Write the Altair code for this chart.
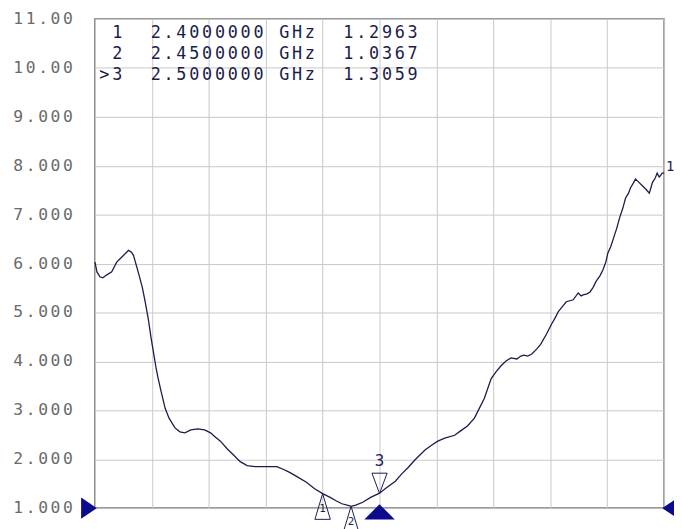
import altair as alt
import pandas as pd

# ---- trace data (VSWR vs frequency) ----
freq_ghz = [2.0000, 2.0035, 2.0087, 2.0139, 2.0208, 2.0295, 2.0382, 2.0469, 2.0538, 2.0590,
            2.0642, 2.0677, 2.0764, 2.0833, 2.0885, 2.0938, 2.0990, 2.1076, 2.1111, 2.1163,
            2.1233, 2.1302, 2.1406, 2.1493, 2.1580, 2.1684, 2.1806, 2.1927, 2.2031, 2.2118,
            2.2205, 2.2326, 2.2448, 2.2552, 2.2674, 2.2813, 2.3021, 2.3194, 2.3316, 2.3420,
            2.3542, 2.3715, 2.3854, 2.4000, 2.4132, 2.4236, 2.4340, 2.4462, 2.4500, 2.4583,
            2.4705, 2.4844, 2.5000, 2.5104, 2.5278, 2.5382, 2.5503, 2.5625, 2.5799, 2.5920,
            2.6024, 2.6146, 2.6319, 2.6424, 2.6545, 2.6667, 2.6753, 2.6840, 2.6962, 2.7049,
            2.7135, 2.7222, 2.7309, 2.7413, 2.7483, 2.7535, 2.7604, 2.7674, 2.7760, 2.7830,
            2.7934, 2.8021, 2.8090, 2.8142, 2.8212, 2.8281, 2.8403, 2.8490, 2.8542, 2.8576,
            2.8646, 2.8698, 2.8750, 2.8802, 2.8872, 2.8924, 2.8976, 2.9010, 2.9063, 2.9097,
            2.9167, 2.9219, 2.9271, 2.9323, 2.9375, 2.9410, 2.9462, 2.9497, 2.9549, 2.9618,
            2.9688, 2.9740, 2.9774, 2.9792, 2.9844, 2.9878, 2.9913, 2.9931, 2.9965, 3.0000]
vswr = [6.03, 5.83, 5.73, 5.71, 5.77, 5.83, 6.03, 6.13, 6.21, 6.27,
        6.23, 6.17, 5.81, 5.51, 5.20, 4.86, 4.45, 3.85, 3.65, 3.38,
        3.04, 2.84, 2.64, 2.56, 2.54, 2.60, 2.62, 2.60, 2.54, 2.45,
        2.37, 2.21, 2.07, 1.95, 1.87, 1.85, 1.85, 1.85, 1.79, 1.73,
        1.65, 1.53, 1.40, 1.2963, 1.22, 1.15, 1.09, 1.05, 1.0367, 1.06,
        1.12, 1.22, 1.3059, 1.40, 1.55, 1.69, 1.83, 1.99, 2.19, 2.29,
        2.37, 2.43, 2.49, 2.58, 2.68, 2.84, 3.04, 3.24, 3.65, 3.79,
        3.91, 4.01, 4.07, 4.05, 4.11, 4.13, 4.11, 4.15, 4.25, 4.35,
        4.56, 4.76, 4.90, 5.02, 5.12, 5.22, 5.26, 5.40, 5.34, 5.36,
        5.38, 5.42, 5.51, 5.63, 5.75, 5.87, 6.03, 6.21, 6.35, 6.47,
        6.72, 6.94, 7.12, 7.34, 7.44, 7.55, 7.65, 7.73, 7.67, 7.59,
        7.51, 7.44, 7.57, 7.65, 7.75, 7.85, 7.77, 7.79, 7.85, 7.85]

# ---- markers ----
marker_ids = ["1", "2", "3"]
marker_freq_ghz = [2.40, 2.45, 2.50]
marker_vswr = [1.2963, 1.0367, 1.3059]
active_marker = "3"

# ---- axes ----
y_ticks = [11, 10, 9, 8, 7, 6, 5, 4, 3, 2, 1]
x_ticks = [2.0, 2.1, 2.2, 2.3, 2.4, 2.5, 2.6, 2.7, 2.8, 2.9, 3.0]
start_ghz, stop_ghz = 2.0, 3.0
ref_level, top_level = 1.0, 11.0
trace_label = "1"

W, H = 576, 495
NAVY = "#1c1c4a"
BLUE = "#0b0b8c"
MONO = "DejaVu Sans Mono"

xs = alt.Scale(domain=[start_ghz, stop_ghz], nice=False, zero=False)
ys = alt.Scale(domain=[ref_level, top_level], nice=False, zero=False)

trace = pd.DataFrame({"f": freq_ghz, "v": vswr})

base_axes = alt.Chart(trace).mark_line(color=NAVY, strokeWidth=1.3, interpolate="linear").encode(
    x=alt.X("f:Q", scale=xs, axis=alt.Axis(values=x_ticks, grid=True, labels=False, ticks=False,
                                              domain=False, title=None, gridColor="#c8c8c8", gridWidth=1)),
    y=alt.Y("v:Q", scale=ys, axis=alt.Axis(values=y_ticks, grid=True, labels=False, ticks=False,
                                              domain=False, title=None, gridColor="#c8c8c8", gridWidth=1)),
)

# y tick labels, monospaced character cells
ylab_rows = []
for t in y_ticks:
    s = f"{t:.2f}" if t >= 10 else f"{t:.3f}"
    for i, ch in enumerate(s):
        ylab_rows.append({"v": t, "i": i, "ch": ch})
ylab = alt.Chart(pd.DataFrame(ylab_rows)).transform_calculate(
    px="-77.7 + 12.6 * datum.i"
).mark_text(font=MONO, fontSize=16.5, color="#6a6a6a", baseline="middle", align="center").encode(
    x=alt.X("px:Q", scale=None), y=alt.Y("v:Q", scale=ys), text="ch:N"
)

# marker table
tab_rows = []
for r, (mid, f, v) in enumerate(zip(marker_ids, marker_freq_ghz, marker_vswr)):
    prefix = ">" if mid == active_marker else " "
    line = f"{prefix}{mid}  {f:.7f} GHz  {v:.4f}"
    for i, ch in enumerate(line):
        if ch != " ":
            tab_rows.append({"r": r, "i": i, "ch": ch})
table = alt.Chart(pd.DataFrame(tab_rows)).transform_calculate(
    px="9.5 + 13 * datum.i", py="14.5 + 21 * datum.r"
).mark_text(font=MONO, fontSize=17, color=NAVY, baseline="middle", align="center").encode(
    x=alt.X("px:Q", scale=None), y=alt.Y("py:Q", scale=None), text="ch:N"
)

mk = pd.DataFrame({"id": marker_ids, "f": marker_freq_ghz, "v": marker_vswr})
mk_inactive = mk[mk["id"] != active_marker]
mk_active = mk[mk["id"] == active_marker]

tri_up = alt.Chart(mk_inactive).mark_point(
    shape="M0,-1L0.6,1L-0.6,1Z", size=676, filled=False, stroke=NAVY, strokeWidth=1, opacity=1, yOffset=13
).encode(x=alt.X("f:Q", scale=xs), y=alt.Y("v:Q", scale=ys))
tri_up_txt = alt.Chart(mk_inactive).mark_text(
    font=MONO, fontSize=11, color=NAVY, baseline="middle", dy=16
).encode(x=alt.X("f:Q", scale=xs), y=alt.Y("v:Q", scale=ys), text="id:N")

tri_dn = alt.Chart(mk_active).mark_point(
    shape="M0,1L0.75,-1L-0.75,-1Z", size=420, filled=False, stroke=NAVY, strokeWidth=1, opacity=1, yOffset=-10
).encode(x=alt.X("f:Q", scale=xs), y=alt.Y("v:Q", scale=ys))
tri_dn_txt = alt.Chart(mk_active).mark_text(
    font=MONO, fontSize=16, color=NAVY, baseline="middle", dy=-33
).encode(x=alt.X("f:Q", scale=xs), y=alt.Y("v:Q", scale=ys), text="id:N")

# active marker stimulus indicator at bottom
stim = alt.Chart(mk_active.assign(ref=ref_level)).mark_point(
    shape="M0,-0.5L1,0.5L-1,0.5Z", size=676, filled=True, fill=BLUE, stroke=BLUE, opacity=1, yOffset=4
).encode(x=alt.X("f:Q", scale=xs), y=alt.Y("ref:Q", scale=ys))

# reference level arrows
ref_df = pd.DataFrame({"f": [start_ghz], "v": [ref_level]})
ref_left = alt.Chart(ref_df).mark_point(
    shape="M1,0L-1,-1.35L-1,1.35Z", size=169, filled=True, fill=BLUE, stroke=BLUE, opacity=1, xOffset=-6.5
).encode(x=alt.X("f:Q", scale=xs), y=alt.Y("v:Q", scale=ys))
ref_df2 = pd.DataFrame({"f": [stop_ghz], "v": [ref_level]})
ref_right = alt.Chart(ref_df2).mark_point(
    shape="M-1,0L1,-1.35L1,1.35Z", size=169, filled=True, fill=BLUE, stroke=BLUE, opacity=1, xOffset=6.5
).encode(x=alt.X("f:Q", scale=xs), y=alt.Y("v:Q", scale=ys))

end_df = pd.DataFrame({"f": [freq_ghz[-1]], "v": [vswr[-1]], "t": [trace_label]})
end_lbl = alt.Chart(end_df).mark_text(
    font=MONO, fontSize=14, color=NAVY, baseline="middle", align="left", dx=2, dy=-6
).encode(x=alt.X("f:Q", scale=xs), y=alt.Y("v:Q", scale=ys), text="t:N")

chart = alt.layer(
    base_axes, ylab, table, tri_up, tri_up_txt, tri_dn, tri_dn_txt, stim, ref_left, ref_right, end_lbl
).properties(
    width=W, height=H,
    autosize=alt.AutoSizeParams(type="none"),
    padding={"left": 88, "top": 8, "right": 10, "bottom": 22},
    background="white",
).configure_view(
    stroke="#777777", strokeWidth=1.6
)

chart.save("out.html", embed_options={"renderer": "svg", "actions": False})
